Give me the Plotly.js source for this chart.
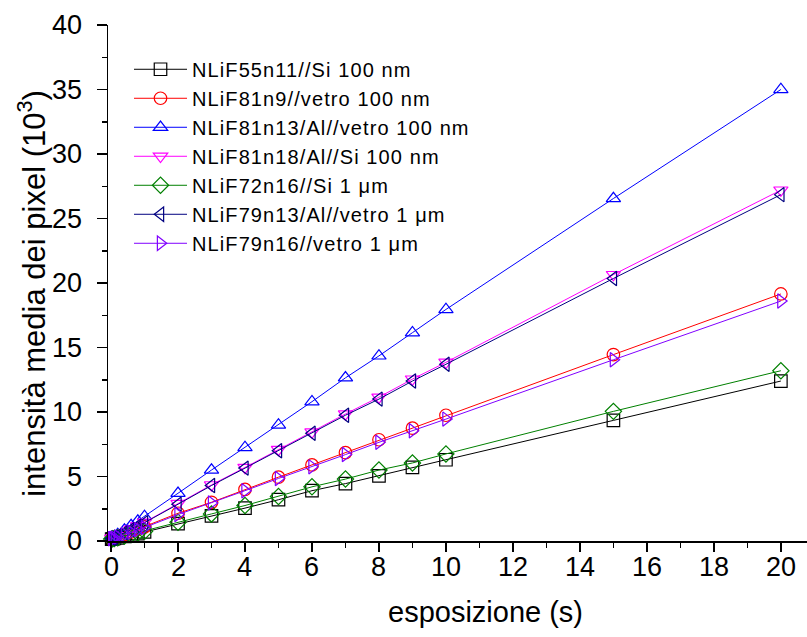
<!DOCTYPE html>
<html>
<head>
<meta charset="utf-8">
<script src="https://cdn.plot.ly/plotly-3.0.1.min.js"></script>
<style>
  html, body { margin: 0; padding: 0; overflow: hidden; background: #fff; }
  #chart { width: 810px; height: 637px; }
  /* slightly wider spacing for the legend labels, without clipping them */
  #chart .legendtext { letter-spacing: 1.1px; }
  #chart .legend .scrollbox { clip-path: none !important; }
</style>
</head>
<body>
<div id="chart"></div>
<script>
// Exposure times (s)
const esposizione = [0.02, 0.05, 0.1, 0.2, 0.4, 0.6, 0.8, 1, 2, 3, 4, 5, 6, 7, 8, 9, 10, 15, 20];

// Mean pixel intensity (10^3) for each sample
const nlif55n11_si_100 = [0.15, 0.17, 0.2, 0.25, 0.35, 0.45, 0.57, 0.7, 1.35, 1.95, 2.55, 3.2, 3.9, 4.45, 5.05, 5.7, 6.3, 9.35, 12.4];
const nlif81n9_vetro_100 = [0.18, 0.2, 0.25, 0.33, 0.5, 0.7, 0.9, 1.1, 2.15, 3.0, 4.0, 4.95, 5.9, 6.85, 7.85, 8.75, 9.75, 14.45, 19.15];
const nlif81n13_al_vetro_100 = [0.22, 0.26, 0.33, 0.5, 0.85, 1.2, 1.55, 1.9, 3.7, 5.5, 7.25, 9.0, 10.8, 12.65, 14.35, 16.15, 17.95, 26.55, 35.0];
const nlif81n18_al_si_100 = [0.2, 0.23, 0.28, 0.4, 0.65, 0.92, 1.18, 1.45, 2.9, 4.35, 5.7, 7.1, 8.45, 9.85, 11.15, 12.55, 13.85, 20.65, 27.2];
const nlif72n16_si_1um = [0.15, 0.17, 0.2, 0.26, 0.38, 0.5, 0.62, 0.75, 1.45, 2.1, 2.75, 3.45, 4.2, 4.8, 5.5, 6.05, 6.75, 10.05, 13.2];
const nlif79n13_al_vetro_1um = [0.2, 0.23, 0.28, 0.4, 0.64, 0.9, 1.15, 1.42, 2.85, 4.3, 5.65, 7.0, 8.35, 9.75, 11.0, 12.4, 13.7, 20.35, 26.85];
const nlif79n16_vetro_1um = [0.18, 0.2, 0.24, 0.32, 0.5, 0.68, 0.87, 1.05, 2.05, 2.95, 3.9, 4.85, 5.75, 6.7, 7.65, 8.55, 9.45, 14.05, 18.6];

// Tick labels
const xTickVals = [0, 2, 4, 6, 8, 10, 12, 14, 16, 18, 20];
const yTickVals = [0, 5, 10, 15, 20, 25, 30, 35, 40];

const seriesNames = [
  'NLiF55n11//Si 100 nm',
  'NLiF81n9//vetro 100 nm',
  'NLiF81n13/Al//vetro 100 nm',
  'NLiF81n18/Al//Si 100 nm',
  'NLiF72n16//Si 1 μm',
  'NLiF79n13/Al//vetro 1 μm',
  'NLiF79n16//vetro 1 μm'
];
const seriesValues = [
  nlif55n11_si_100, nlif81n9_vetro_100, nlif81n13_al_vetro_100, nlif81n18_al_si_100,
  nlif72n16_si_1um, nlif79n13_al_vetro_1um, nlif79n16_vetro_1um
];
const seriesColors = ['#000000', '#FF0000', '#0000FF', '#FF00FF', '#008000', '#000080', '#8000FF'];
const seriesSymbols = ['square-open', 'circle-open', 'triangle-up-open', 'triangle-down-open',
                       'diamond-open', 'triangle-left-open', 'triangle-right-open'];

const xTitle = 'esposizione (s)';
const yTitle = 'intensità media dei pixel (10<sup>3</sup>)';

const traces = seriesNames.map((name, i) => ({
  type: 'scatter',
  mode: 'lines+markers',
  name: name,
  x: esposizione,
  y: seriesValues[i],
  line: { color: seriesColors[i], width: 1 },
  marker: { symbol: seriesSymbols[i], size: 12.5, color: seriesColors[i], line: { width: 1.2, color: seriesColors[i] } },
  cliponaxis: false
}));

const font = 'Liberation Sans, Arial, sans-serif';
const tickFont = { family: font, size: 27, color: '#000' };
const X_RANGE = [-0.09, 20.84];
const Y_RANGE = [0, 40];
const X_DOMAIN = [0.0085, 1];

// frame axis: visible line and tick marks, labels set separately
function frameAxis(extra) {
  return Object.assign({
    showline: true, linecolor: '#000', linewidth: 1.5,
    tickcolor: '#000', tickwidth: 1.5,
    showticklabels: false, showgrid: false, zeroline: false
  }, extra);
}

// tick labels placed on the axis scales
const xTickLabels = xTickVals.map(v => ({
  text: String(v), xref: 'x', yref: 'paper', x: v, y: 0, yshift: -26,
  xanchor: 'center', yanchor: 'middle', showarrow: false, font: tickFont
}));
const yTickLabels = yTickVals.map(v => ({
  text: String(v), xref: 'paper', yref: 'y', x: -0.0255, y: v,
  xanchor: 'right', yanchor: 'middle', showarrow: false, font: tickFont
}));

const layout = {
  width: 810,
  height: 637,
  margin: { l: 102, r: 1, t: 25, b: 96 },
  paper_bgcolor: '#ffffff',
  plot_bgcolor: '#ffffff',
  font: { family: font, color: '#000000' },
  showlegend: true,
  legend: {
    x: 0.0382, y: 0.952, xanchor: 'left', yanchor: 'top',
    bgcolor: 'rgba(0,0,0,0)',
    font: { family: font, size: 20, color: '#000000' },
    itemwidth: 53,
    tracegroupgap: 0
  },
  // bottom frame with outward ticks
  xaxis: frameAxis({
    domain: X_DOMAIN, range: X_RANGE, tick0: 0, dtick: 2,
    ticks: 'outside', ticklen: 9,
    minor: { dtick: 1, ticks: 'outside', ticklen: 5, tickwidth: 1.5, tickcolor: '#000' }
  }),
  // top frame with inward ticks
  xaxis2: frameAxis({
    domain: X_DOMAIN, overlaying: 'x', matches: 'x', side: 'top', anchor: 'y',
    tick0: 0, dtick: 2,
    ticks: 'inside', ticklen: 10,
    minor: { dtick: 1, ticks: 'inside', ticklen: 5, tickwidth: 1.5, tickcolor: '#000' }
  }),
  // left frame with outward ticks
  yaxis: frameAxis({
    range: Y_RANGE, tick0: 0, dtick: 5,
    ticks: 'outside', ticklen: 10,
    minor: { dtick: 2.5, ticks: 'outside', ticklen: 5, tickwidth: 1.5, tickcolor: '#000' }
  }),
  // right frame with inward ticks
  yaxis2: frameAxis({
    overlaying: 'y', matches: 'y', side: 'right', anchor: 'x',
    tick0: 0, dtick: 5,
    ticks: 'inside', ticklen: 6,
    minor: { dtick: 2.5, ticks: 'inside', ticklen: 3, tickwidth: 1.5, tickcolor: '#000' }
  }),
  annotations: [
    ...xTickLabels,
    ...yTickLabels,
    {
      text: xTitle, xref: 'paper', yref: 'paper', x: 0.5431, y: -0.1376,
      xanchor: 'center', yanchor: 'middle', showarrow: false,
      font: { family: font, size: 29, color: '#000' }
    },
    {
      text: yTitle, xref: 'paper', yref: 'paper', x: -0.099, y: 0.479,
      xanchor: 'center', yanchor: 'middle', textangle: -90, showarrow: false,
      font: { family: font, size: 31, color: '#000' }
    }
  ]
};

Plotly.newPlot('chart', traces, layout, { staticPlot: true, displayModeBar: false });
</script>
</body>
</html>
